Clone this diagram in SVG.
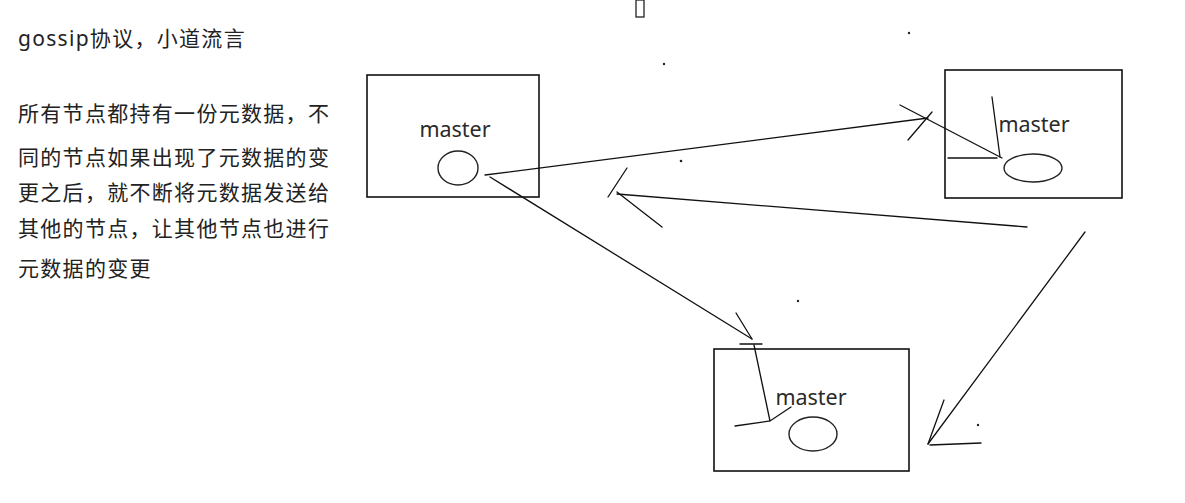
<svg xmlns="http://www.w3.org/2000/svg" width="1185" height="503" viewBox="0 0 1185 503">
<style>
.box{fill:#fff;stroke:#111;stroke-width:1.6}
.shape{fill:none;stroke:#222;stroke-width:1.4}
.ln{fill:none;stroke:#111;stroke-width:1.3;stroke-linecap:round}
.lbl{font-family:"Noto Sans","Open Sans",sans-serif;font-size:21.5px;fill:#2a2a2a}
.txt{font-family:"Noto Sans","Noto Sans CJK SC",sans-serif;font-size:21px;letter-spacing:1.3px;fill:#222}
.dot{fill:#222}
</style>
<rect width="1185" height="503" fill="#fff"/>
<g id="notes">
<text class="txt" x="18" y="46">gossip协议，小道流言</text>
<text class="txt" x="18" y="121">所有节点都持有一份元数据，不</text>
<text class="txt" x="18" y="165">同的节点如果出现了元数据的变</text>
<text class="txt" x="18" y="200">更之后，就不断将元数据发送给</text>
<text class="txt" x="18" y="236">其他的节点，让其他节点也进行</text>
<text class="txt" x="18" y="276">元数据的变更</text>
</g>
<g id="node-1">
<rect class="box" x="367" y="75" width="172" height="122"/>
<text class="lbl" x="455" y="137" text-anchor="middle">master</text>
<ellipse class="shape" cx="458" cy="168" rx="20" ry="17"/>
</g>
<g id="node-2">
<rect class="box" x="945" y="70" width="177" height="128"/>
<text class="lbl" x="1034" y="132" text-anchor="middle">master</text>
<ellipse class="shape" cx="1033" cy="168" rx="29" ry="14"/>
</g>
<g id="node-3">
<rect class="box" x="714" y="349" width="195" height="122"/>
<text class="lbl" x="811" y="405" text-anchor="middle">master</text>
<ellipse class="shape" cx="813" cy="434" rx="24" ry="17"/>
</g>
<g id="connectors">
<path class="ln" d="M485 175 L928 118"/>
<path class="ln" d="M900 105 L1002 158 M908 140 L932 112"/>
<path class="ln" d="M992 97 L1000 157 M948 158 L997 158"/>
<path class="ln" d="M490 177 L752 339"/>
<path class="ln" d="M736 313 L752 339 M740 344 L762 344"/>
<path class="ln" d="M754 345 L770 421 M735 426 L770 421 L791 407"/>
<path class="ln" d="M1027 227 L617 194"/>
<path class="ln" d="M627 168 L608 197 M617 192 L662 227"/>
<path class="ln" d="M1085 232 L928 444"/>
<path class="ln" d="M928 444 L944 400 M930 445 L981 443"/>
</g>
<g id="marks">
<rect x="636" y="0" width="8" height="17" fill="#fff" stroke="#222" stroke-width="1.3"/>
<circle class="dot" cx="909" cy="33" r="1.2"/>
<circle class="dot" cx="664" cy="64" r="1.2"/>
<circle class="dot" cx="681" cy="161" r="1.3"/>
<circle class="dot" cx="798" cy="301" r="1.2"/>
<circle class="dot" cx="978" cy="425" r="1.2"/>
</g>
</svg>
